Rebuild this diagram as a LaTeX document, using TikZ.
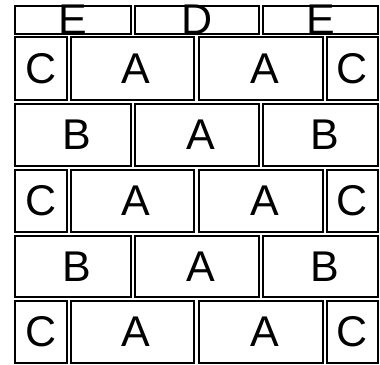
\documentclass[tikz,border=0pt]{standalone}
\usepackage{fontspec}
\setmainfont{Liberation Sans}
\begin{document}
\begin{tikzpicture}[x=1pt,y=-1pt,
  cell/.style={draw=black, line width=1.4pt, inner sep=0pt,
    preaction={draw=black!35, line width=2.6pt}},
  topcell/.style={draw=black, line width=1.1pt, inner sep=0pt,
    preaction={draw=black!30, line width=2.2pt}},
  lab/.style={font=\fontsize{43}{43}\selectfont, inner sep=0pt}]
\useasboundingbox (0,0) rectangle (380,364);
% helper: box from (x1,y1) to (x2,y2), label, label x-shift
\newcommand{\cellbox}[8]{%
  \node[#8, minimum width={#4-#2}, minimum height={#5-#3},
    label={[lab,xshift=#7]center:#6}] (#1) at ({(#2+#4)/2},{(#3+#5)/2}) {};}
% top row
\cellbox{t1}{15}{6}{131}{34}{E}{0pt}{topcell}
\cellbox{t2}{135}{6}{259}{34}{D}{0.5pt}{topcell}
\cellbox{t3}{263}{6}{378}{34}{E}{0.5pt}{topcell}
% row 1
\cellbox{a1}{15}{37}{67}{100}{C}{0pt}{cell}
\cellbox{a2}{71}{37}{194}{100}{A}{3.5pt}{cell}
\cellbox{a3}{199}{37}{323}{100}{A}{3.5pt}{cell}
\cellbox{a4}{327}{37}{378}{100}{C}{0pt}{cell}
% row 2
\cellbox{b1}{15}{104}{131}{166}{B}{4pt}{cell}
\cellbox{b2}{135}{104}{259}{166}{A}{3.5pt}{cell}
\cellbox{b3}{263}{104}{378}{166}{B}{4pt}{cell}
% row 3
\cellbox{c1}{15}{170}{67}{232}{C}{0pt}{cell}
\cellbox{c2}{71}{170}{194}{232}{A}{3.5pt}{cell}
\cellbox{c3}{199}{170}{323}{232}{A}{3.5pt}{cell}
\cellbox{c4}{327}{170}{378}{232}{C}{0pt}{cell}
% row 4
\cellbox{d1}{15}{236}{131}{297}{B}{4pt}{cell}
\cellbox{d2}{135}{236}{259}{297}{A}{3.5pt}{cell}
\cellbox{d3}{263}{236}{378}{297}{B}{4pt}{cell}
% row 5
\cellbox{e1}{15}{301}{67}{363}{C}{0pt}{cell}
\cellbox{e2}{71}{301}{194}{363}{A}{3.5pt}{cell}
\cellbox{e3}{199}{301}{323}{363}{A}{3.5pt}{cell}
\cellbox{e4}{327}{301}{378}{363}{C}{0pt}{cell}
\end{tikzpicture}
\end{document}
